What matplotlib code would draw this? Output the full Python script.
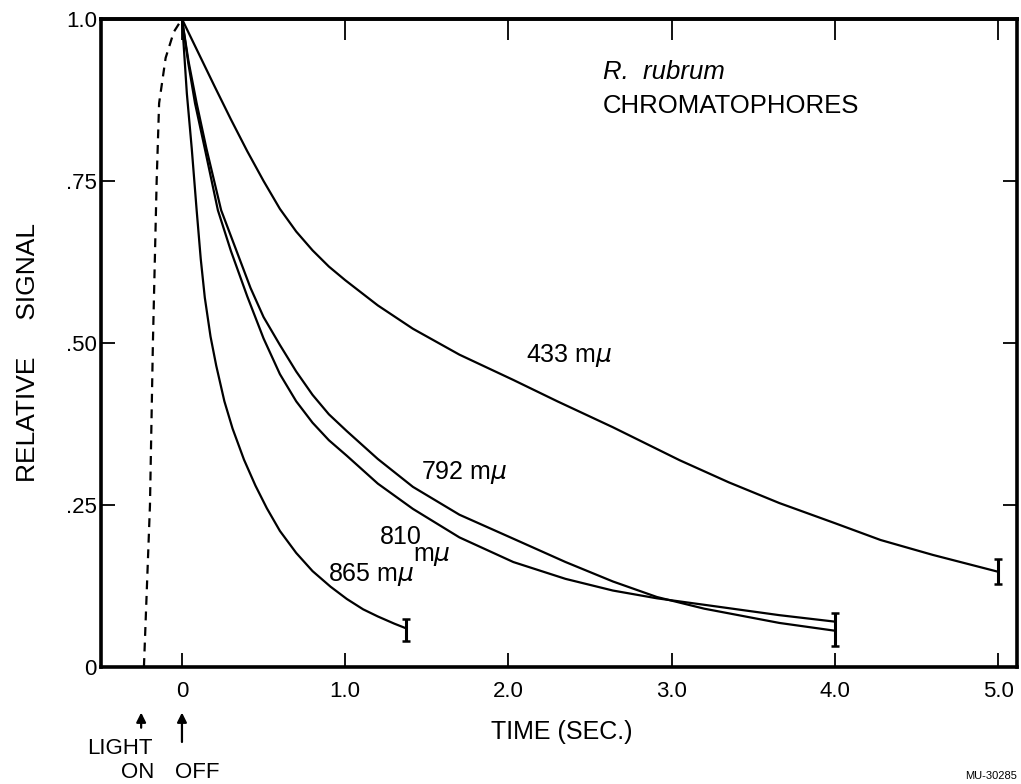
import matplotlib
matplotlib.use("Agg")
import matplotlib.pyplot as plt

plt.rcParams['font.family'] = ['Liberation Sans', 'DejaVu Sans']

# ---- data ----
t_433 = [0.0, 0.1, 0.2, 0.3, 0.4, 0.5, 0.6, 0.7, 0.8, 0.9, 1.0, 1.2, 1.415,
         1.7, 2.03, 2.3, 2.64, 3.05, 3.35, 3.66, 4.0, 4.28, 4.6, 5.0]
v_433 = [1.0, 0.948, 0.896, 0.845, 0.796, 0.750, 0.707, 0.672, 0.643, 0.618,
         0.597, 0.558, 0.522, 0.482, 0.443, 0.410, 0.370, 0.319, 0.285, 0.253,
         0.222, 0.196, 0.173, 0.147]

t_792 = [0.0, 0.04, 0.09, 0.15, 0.24, 0.33, 0.42, 0.5, 0.6, 0.7, 0.8, 0.9, 1.01,
         1.2, 1.415, 1.7, 2.03, 2.35, 2.64, 2.91, 3.2, 3.66, 4.0]
v_792 = [1.0, 0.935, 0.87, 0.80, 0.705, 0.645, 0.585, 0.540, 0.497, 0.456, 0.42,
         0.39, 0.364, 0.321, 0.278, 0.235, 0.198, 0.162, 0.132, 0.108, 0.09,
         0.068, 0.056]

t_810 = [0.0, 0.04, 0.08, 0.14, 0.22, 0.3, 0.4, 0.5, 0.6, 0.7, 0.8, 0.9, 1.01,
         1.2, 1.415, 1.7, 2.03, 2.35, 2.64, 2.91, 3.2, 3.66, 4.0]
v_810 = [1.0, 0.93, 0.87, 0.80, 0.705, 0.642, 0.572, 0.507, 0.452, 0.41, 0.377,
         0.35, 0.326, 0.283, 0.244, 0.20, 0.162, 0.136, 0.118, 0.106, 0.096,
         0.08, 0.07]

t_865 = [0.0, 0.03, 0.06, 0.09, 0.115, 0.14, 0.175, 0.21, 0.26, 0.31, 0.38, 0.45,
         0.52, 0.6, 0.7, 0.8, 0.91, 1.01, 1.11, 1.2, 1.3, 1.37]
v_865 = [1.0, 0.885, 0.80, 0.705, 0.63, 0.57, 0.51, 0.465, 0.41, 0.368, 0.32,
         0.28, 0.245, 0.21, 0.176, 0.148, 0.124, 0.105, 0.089, 0.078, 0.067, 0.06]

t_on = [-0.233, -0.196, -0.178, -0.155, -0.14, -0.10, -0.05, 0.0]
v_on = [0.0, 0.25, 0.50, 0.75, 0.87, 0.94, 0.98, 1.0]

err_t = [1.37, 4.0, 5.0]
err_v = [0.057, 0.058, 0.147]
err_e = [0.017, 0.025, 0.019]

xticks = [0, 1, 2, 3, 4, 5]
xticklabels = ['0', '1.0', '2.0', '3.0', '4.0', '5.0']
yticks = [0, 0.25, 0.5, 0.75, 1.0]
yticklabels = ['0', '.25', '.50', '.75', '1.0']

labels = ['433 m$\\mu$', '792 m$\\mu$', '810', 'm$\\mu$', '865 m$\\mu$']
label_pos = [(2.37, 0.48), (1.73, 0.30), (1.34, 0.20), (1.53, 0.172), (1.16, 0.143)]

# ---- figure ----
fig = plt.figure(figsize=(10.21, 7.84), dpi=100)
ax = fig.add_axes([101/1021, 1 - 667/784, 916/1021, 648/784])

lw = 1.6
for t, v in [(t_433, v_433), (t_792, v_792), (t_810, v_810), (t_865, v_865)]:
    ax.plot(t, v, color='black', lw=lw, solid_joinstyle='round')
ax.plot(t_on, v_on, color='black', lw=1.6, ls=(0, (4, 3)))
ax.errorbar(err_t, err_v, yerr=err_e, fmt='none', ecolor='black',
            elinewidth=2.2, capsize=3, capthick=1.8)

ax.set_xlim(-0.496, 5.116)
ax.set_ylim(0, 1.0)

for s in ax.spines.values():
    s.set_linewidth(2.6)

ax.set_xticks(xticks)
ax.set_xticklabels(xticklabels, fontsize=16)
ax.set_yticks(yticks)
ax.set_yticklabels(yticklabels, fontsize=16)
ax.tick_params(axis='both', direction='in', length=10, width=1.3, right=True)
ax.tick_params(axis='x', pad=10)
ax.tick_params(axis='y', pad=3)

top = ax.secondary_xaxis('top')
top.set_xticks(xticks)
top.set_xticklabels([])
top.tick_params(direction='in', length=15, width=1.3)
top.spines['top'].set_linewidth(2.6)

for txt, (x, y) in zip(labels, label_pos):
    ax.text(x, y, txt, fontsize=18, ha='center', va='center')

ax.text(2.58, 0.918, 'R.  rubrum', fontsize=18.5, style='italic', ha='left', va='center')
ax.text(2.58, 0.866, 'CHROMATOPHORES', fontsize=18.5, ha='left', va='center')

fig.text(28/1021, 1 - 352/784, 'RELATIVE     SIGNAL', rotation=90, fontsize=19,
         ha='center', va='center')
fig.text(562/1021, 1 - 732/784, 'TIME (SEC.)', fontsize=18, ha='center', va='center')

# light on / off arrows and labels
ax.annotate('', xy=(-0.25, -0.066), xytext=(-0.25, -0.098), xycoords='data',
            annotation_clip=False,
            arrowprops=dict(arrowstyle='-|>', color='black', lw=1.6, mutation_scale=14))
ax.annotate('', xy=(0.0, -0.066), xytext=(0.0, -0.12), xycoords='data',
            annotation_clip=False,
            arrowprops=dict(arrowstyle='-|>', color='black', lw=1.6, mutation_scale=14))
fig.text(120/1021, 1 - 748/784, 'LIGHT', fontsize=16, ha='center', va='center')
fig.text(138/1021, 1 - 772/784, 'ON', fontsize=16, ha='center', va='center')
fig.text(197/1021, 1 - 772/784, 'OFF', fontsize=16, ha='center', va='center')
fig.text(1017/1021, 1 - 776/784, 'MU-30285', fontsize=8, ha='right', va='center')

fig.savefig('out.png', dpi=100)
